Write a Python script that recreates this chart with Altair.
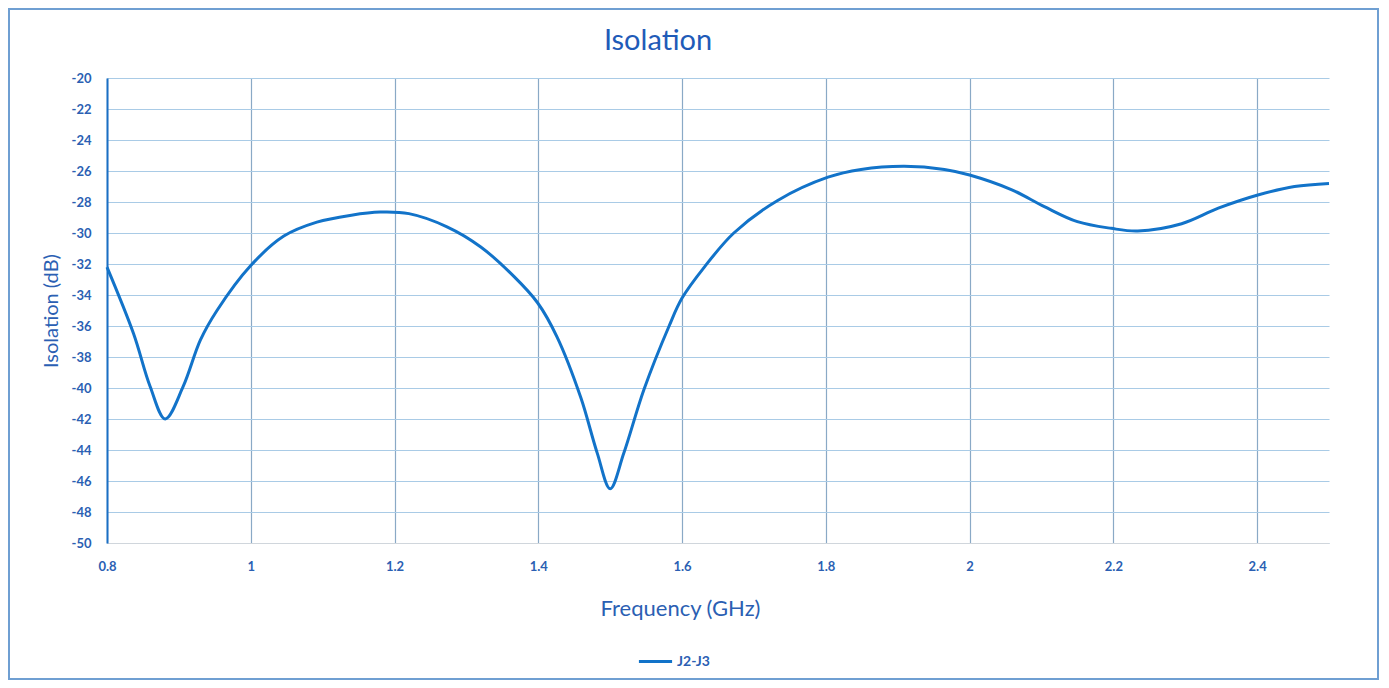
import altair as alt
import pandas as pd

freq = [0.800, 0.837, 0.860, 0.881, 0.906, 0.930, 0.953, 1.000, 1.046, 1.092, 1.140, 1.180,
        1.220, 1.273, 1.320, 1.366, 1.399, 1.426, 1.459, 1.482, 1.500, 1.519, 1.547, 1.582,
        1.600, 1.631, 1.672, 1.733, 1.803, 1.849, 1.909, 1.965, 2.000, 2.058, 2.104, 2.150,
        2.197, 2.234, 2.295, 2.346, 2.401, 2.452, 2.500]
isolation = [-32.2, -36.5, -39.9, -42.0, -39.9, -36.9, -35.0, -32.1, -30.2, -29.3, -28.85, -28.65,
             -28.75, -29.6, -30.9, -32.8, -34.5, -36.7, -40.6, -44.2, -46.5, -44.2, -40.1, -36.0,
             -34.2, -32.2, -30.0, -27.9, -26.4, -25.9, -25.7, -25.9, -26.26, -27.2, -28.3, -29.27,
             -29.7, -29.87, -29.4, -28.4, -27.55, -27.0, -26.8]
series = ["J2-J3"] * len(freq)

x_ticks = [0.8, 1, 1.2, 1.4, 1.6, 1.8, 2, 2.2, 2.4]
y_ticks = list(range(-50, -19, 2))
chart_title = "Isolation"

df = pd.DataFrame({"freq": freq, "iso": isolation, "series": series})

W, H = 1222, 465
BLUE_TXT = "#2b5fb3"
LINE = "#1273c9"
FONT = "Lato"

line = alt.Chart(df).mark_line(strokeWidth=3, interpolate="catmull-rom").encode(
    x=alt.X("freq:Q", scale=alt.Scale(domain=[0.8, 2.5], nice=False, zero=False),
            axis=alt.Axis(values=x_ticks, title="Frequency (GHz)", labelFontSize=13,
                          labelFontWeight="bold", labelColor=BLUE_TXT, labelFont=FONT,
                          labelPadding=17, ticks=False, domainColor="#d0d6dc",
                          gridColor="#8aa9c6", gridWidth=1.2, labelFlush=False,
                          titleFontSize=22, titleFont=FONT, titleFontWeight="normal",
                          titleColor=BLUE_TXT, titlePadding=25, titleX=573,
                          labelExpr="'' + datum.value")),
    y=alt.Y("iso:Q", scale=alt.Scale(domain=[-50, -20], nice=False, zero=False),
            axis=alt.Axis(values=y_ticks, title="Isolation (dB)", labelFontSize=13,
                          labelFontWeight="bold", labelColor=BLUE_TXT, labelFont=FONT,
                          labelPadding=16, ticks=False, domainColor="#1a6fc4", domainWidth=2,
                          gridColor="#a9cbe6", gridWidth=1.2, labelFlush=False,
                          titleFontSize=20, titleFont=FONT, titleFontWeight="normal",
                          titleColor=BLUE_TXT, titlePadding=10,
                          labelExpr="'' + datum.value")),
    color=alt.Color("series:N", scale=alt.Scale(range=[LINE]),
                    legend=alt.Legend(title=None, orient="none", legendX=530, legendY=565,
                                      symbolType="stroke", symbolSize=1100,
                                      symbolStrokeWidth=3, labelFontSize=14,
                                      labelFontWeight="bold", labelColor=BLUE_TXT,
                                      labelFont=FONT, padding=0, labelOffset=3)),
)

title = alt.Chart(df.head(1)).mark_text(fontSize=29, font=FONT, color="#1f5bb8",
                                         align="center", baseline="middle").encode(
    x=alt.value(551), y=alt.value(-37), text=alt.value(chart_title)
)

frame = alt.Chart(df.head(1)).mark_rect(filled=False, stroke="#6f9fd2", strokeWidth=2,
                                        clip=False).encode(
    x=alt.value(-98), x2=alt.value(1271), y=alt.value(-69), y2=alt.value(601)
)

chart = alt.layer(frame, line, title).properties(
    width=W, height=H,
    autosize=alt.AutoSizeParams(type="none"),
    padding={"left": 99, "top": 70, "right": 52, "bottom": 137},
).configure_view(stroke=None).configure_axis(gridOpacity=1)

chart.save("out.html", embed_options={"renderer": "svg", "actions": False})
